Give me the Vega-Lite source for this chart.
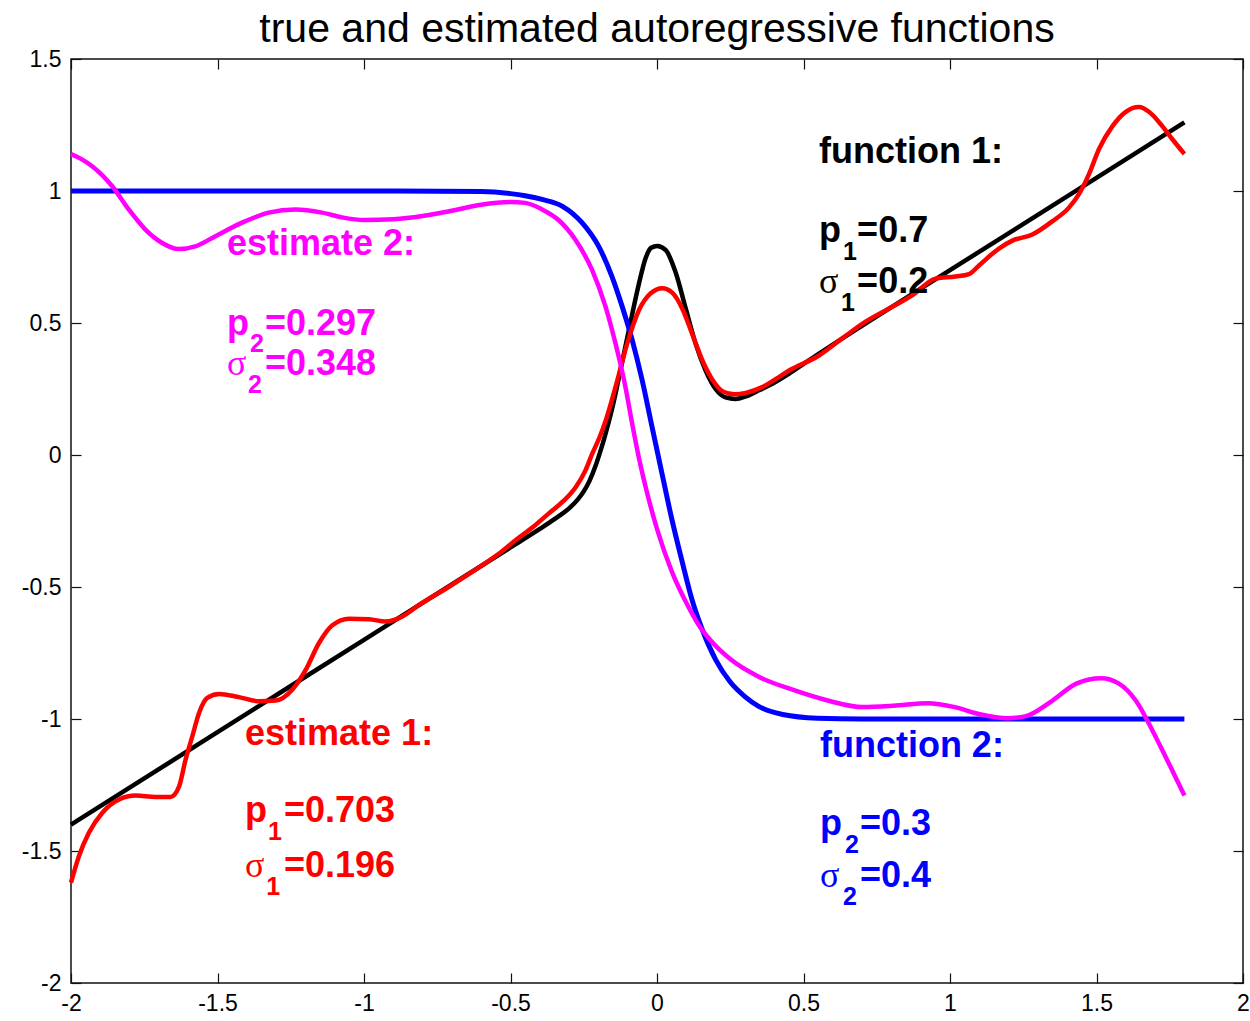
{
  "$schema": "https://vega.github.io/schema/vega-lite/v6.json",
  "width": 1172,
  "height": 924,
  "autosize": "none",
  "padding": {"left": 71, "top": 59, "right": 7, "bottom": 38},
  "background": "white",
  "config": {
    "view": {"stroke": "#111", "strokeWidth": 1.5},
    "font": "Liberation Sans",
    "axis": {"grid": false, "domain": false, "tickColor": "#111", "tickWidth": 1.2, "tickSize": -10, "labelColor": "#000", "labelFont": "Liberation Sans", "labelFontSize": 23, "labelFlush": false, "labelOverlap": false, "title": null}
  },
  "title": {"text": "true and estimated autoregressive functions", "font": "Liberation Sans", "fontSize": 41, "fontWeight": "normal", "color": "#000", "anchor": "middle", "baseline": "bottom", "offset": 17, "dy": 61, "frame": "group"},
  "datasets": {
    "curves": [
      {"series": "function 1", "x": -2, "y": -1.4},
      {"series": "function 1", "x": -1.5, "y": -1.05},
      {"series": "function 1", "x": -1, "y": -0.7},
      {"series": "function 1", "x": -0.5, "y": -0.35},
      {"series": "function 1", "x": -0.4, "y": -0.28},
      {"series": "function 1", "x": -0.35, "y": -0.243},
      {"series": "function 1", "x": -0.3, "y": -0.202},
      {"series": "function 1", "x": -0.27, "y": -0.168},
      {"series": "function 1", "x": -0.25, "y": -0.138},
      {"series": "function 1", "x": -0.23, "y": -0.097},
      {"series": "function 1", "x": -0.21, "y": -0.042},
      {"series": "function 1", "x": -0.195, "y": 0.008},
      {"series": "function 1", "x": -0.18, "y": 0.063},
      {"series": "function 1", "x": -0.164, "y": 0.128},
      {"series": "function 1", "x": -0.15, "y": 0.19},
      {"series": "function 1", "x": -0.124, "y": 0.325},
      {"series": "function 1", "x": -0.09, "y": 0.505},
      {"series": "function 1", "x": -0.061, "y": 0.652},
      {"series": "function 1", "x": -0.039, "y": 0.745},
      {"series": "function 1", "x": -0.02, "y": 0.785},
      {"series": "function 1", "x": 0.001, "y": 0.792},
      {"series": "function 1", "x": 0.03, "y": 0.776},
      {"series": "function 1", "x": 0.064, "y": 0.69},
      {"series": "function 1", "x": 0.098, "y": 0.555},
      {"series": "function 1", "x": 0.132, "y": 0.421},
      {"series": "function 1", "x": 0.166, "y": 0.32},
      {"series": "function 1", "x": 0.2, "y": 0.25},
      {"series": "function 1", "x": 0.234, "y": 0.218},
      {"series": "function 1", "x": 0.268, "y": 0.212},
      {"series": "function 1", "x": 0.303, "y": 0.222},
      {"series": "function 1", "x": 0.348, "y": 0.245},
      {"series": "function 1", "x": 0.394, "y": 0.27},
      {"series": "function 1", "x": 0.451, "y": 0.308},
      {"series": "function 1", "x": 0.5, "y": 0.345},
      {"series": "function 1", "x": 1, "y": 0.7},
      {"series": "function 1", "x": 1.8, "y": 1.26},

      {"series": "function 2", "x": -2, "y": 1},
      {"series": "function 2", "x": -1, "y": 1},
      {"series": "function 2", "x": -0.6, "y": 0.998},
      {"series": "function 2", "x": -0.5, "y": 0.99},
      {"series": "function 2", "x": -0.45, "y": 0.982},
      {"series": "function 2", "x": -0.392, "y": 0.968},
      {"series": "function 2", "x": -0.324, "y": 0.943},
      {"series": "function 2", "x": -0.256, "y": 0.88},
      {"series": "function 2", "x": -0.199, "y": 0.79},
      {"series": "function 2", "x": -0.154, "y": 0.677},
      {"series": "function 2", "x": -0.119, "y": 0.563},
      {"series": "function 2", "x": -0.085, "y": 0.437},
      {"series": "function 2", "x": -0.051, "y": 0.285},
      {"series": "function 2", "x": -0.017, "y": 0.107},
      {"series": "function 2", "x": 0.017, "y": -0.07},
      {"series": "function 2", "x": 0.05, "y": -0.24},
      {"series": "function 2", "x": 0.085, "y": -0.4},
      {"series": "function 2", "x": 0.12, "y": -0.55},
      {"series": "function 2", "x": 0.154, "y": -0.66},
      {"series": "function 2", "x": 0.2, "y": -0.775},
      {"series": "function 2", "x": 0.25, "y": -0.86},
      {"series": "function 2", "x": 0.3, "y": -0.915},
      {"series": "function 2", "x": 0.347, "y": -0.952},
      {"series": "function 2", "x": 0.429, "y": -0.983},
      {"series": "function 2", "x": 0.547, "y": -0.997},
      {"series": "function 2", "x": 0.7, "y": -1},
      {"series": "function 2", "x": 1.8, "y": -1},

      {"series": "estimate 1", "x": -2, "y": -1.62},
      {"series": "estimate 1", "x": -1.973, "y": -1.52},
      {"series": "estimate 1", "x": -1.939, "y": -1.431},
      {"series": "estimate 1", "x": -1.893, "y": -1.355},
      {"series": "estimate 1", "x": -1.836, "y": -1.305},
      {"series": "estimate 1", "x": -1.779, "y": -1.29},
      {"series": "estimate 1", "x": -1.711, "y": -1.295},
      {"series": "estimate 1", "x": -1.66, "y": -1.295},
      {"series": "estimate 1", "x": -1.631, "y": -1.255},
      {"series": "estimate 1", "x": -1.609, "y": -1.154},
      {"series": "estimate 1", "x": -1.586, "y": -1.066},
      {"series": "estimate 1", "x": -1.563, "y": -0.977},
      {"series": "estimate 1", "x": -1.535, "y": -0.92},
      {"series": "estimate 1", "x": -1.495, "y": -0.905},
      {"series": "estimate 1", "x": -1.427, "y": -0.917},
      {"series": "estimate 1", "x": -1.358, "y": -0.933},
      {"series": "estimate 1", "x": -1.301, "y": -0.93},
      {"series": "estimate 1", "x": -1.245, "y": -0.889},
      {"series": "estimate 1", "x": -1.199, "y": -0.814},
      {"series": "estimate 1", "x": -1.154, "y": -0.713},
      {"series": "estimate 1", "x": -1.108, "y": -0.645},
      {"series": "estimate 1", "x": -1.051, "y": -0.62},
      {"series": "estimate 1", "x": -0.983, "y": -0.622},
      {"series": "estimate 1", "x": -0.926, "y": -0.631},
      {"series": "estimate 1", "x": -0.869, "y": -0.612},
      {"series": "estimate 1", "x": -0.812, "y": -0.568},
      {"series": "estimate 1", "x": -0.71, "y": -0.499},
      {"series": "estimate 1", "x": -0.6, "y": -0.42},
      {"series": "estimate 1", "x": -0.539, "y": -0.373},
      {"series": "estimate 1", "x": -0.482, "y": -0.322},
      {"series": "estimate 1", "x": -0.42, "y": -0.27},
      {"series": "estimate 1", "x": -0.369, "y": -0.221},
      {"series": "estimate 1", "x": -0.32, "y": -0.175},
      {"series": "estimate 1", "x": -0.277, "y": -0.121},
      {"series": "estimate 1", "x": -0.245, "y": -0.06},
      {"series": "estimate 1", "x": -0.221, "y": 0.005},
      {"series": "estimate 1", "x": -0.195, "y": 0.07},
      {"series": "estimate 1", "x": -0.175, "y": 0.131},
      {"series": "estimate 1", "x": -0.141, "y": 0.26},
      {"series": "estimate 1", "x": -0.101, "y": 0.425},
      {"series": "estimate 1", "x": -0.061, "y": 0.55},
      {"series": "estimate 1", "x": -0.022, "y": 0.612},
      {"series": "estimate 1", "x": 0.018, "y": 0.632},
      {"series": "estimate 1", "x": 0.052, "y": 0.615},
      {"series": "estimate 1", "x": 0.086, "y": 0.555},
      {"series": "estimate 1", "x": 0.12, "y": 0.459},
      {"series": "estimate 1", "x": 0.155, "y": 0.358},
      {"series": "estimate 1", "x": 0.189, "y": 0.285},
      {"series": "estimate 1", "x": 0.223, "y": 0.242},
      {"series": "estimate 1", "x": 0.263, "y": 0.23},
      {"series": "estimate 1", "x": 0.303, "y": 0.235},
      {"series": "estimate 1", "x": 0.359, "y": 0.257},
      {"series": "estimate 1", "x": 0.416, "y": 0.295},
      {"series": "estimate 1", "x": 0.451, "y": 0.32},
      {"series": "estimate 1", "x": 0.55, "y": 0.375},
      {"series": "estimate 1", "x": 0.63, "y": 0.44},
      {"series": "estimate 1", "x": 0.712, "y": 0.505},
      {"series": "estimate 1", "x": 0.792, "y": 0.555},
      {"series": "estimate 1", "x": 0.871, "y": 0.605},
      {"series": "estimate 1", "x": 0.951, "y": 0.668},
      {"series": "estimate 1", "x": 1.019, "y": 0.676},
      {"series": "estimate 1", "x": 1.065, "y": 0.685},
      {"series": "estimate 1", "x": 1.099, "y": 0.718},
      {"series": "estimate 1", "x": 1.167, "y": 0.782},
      {"series": "estimate 1", "x": 1.213, "y": 0.812},
      {"series": "estimate 1", "x": 1.281, "y": 0.835},
      {"series": "estimate 1", "x": 1.349, "y": 0.885},
      {"series": "estimate 1", "x": 1.406, "y": 0.937},
      {"series": "estimate 1", "x": 1.44, "y": 0.988},
      {"series": "estimate 1", "x": 1.474, "y": 1.063},
      {"series": "estimate 1", "x": 1.509, "y": 1.16},
      {"series": "estimate 1", "x": 1.554, "y": 1.245},
      {"series": "estimate 1", "x": 1.6, "y": 1.3},
      {"series": "estimate 1", "x": 1.645, "y": 1.318},
      {"series": "estimate 1", "x": 1.679, "y": 1.3},
      {"series": "estimate 1", "x": 1.725, "y": 1.245},
      {"series": "estimate 1", "x": 1.759, "y": 1.196},
      {"series": "estimate 1", "x": 1.8, "y": 1.14},

      {"series": "estimate 2", "x": -2, "y": 1.14},
      {"series": "estimate 2", "x": -1.96, "y": 1.118},
      {"series": "estimate 2", "x": -1.928, "y": 1.094},
      {"series": "estimate 2", "x": -1.86, "y": 1.019},
      {"series": "estimate 2", "x": -1.803, "y": 0.93},
      {"series": "estimate 2", "x": -1.746, "y": 0.854},
      {"series": "estimate 2", "x": -1.69, "y": 0.804},
      {"series": "estimate 2", "x": -1.632, "y": 0.78},
      {"series": "estimate 2", "x": -1.576, "y": 0.79},
      {"series": "estimate 2", "x": -1.507, "y": 0.829},
      {"series": "estimate 2", "x": -1.416, "y": 0.88},
      {"series": "estimate 2", "x": -1.325, "y": 0.918},
      {"series": "estimate 2", "x": -1.234, "y": 0.93},
      {"series": "estimate 2", "x": -1.143, "y": 0.918},
      {"series": "estimate 2", "x": -1.075, "y": 0.9},
      {"series": "estimate 2", "x": -1.0, "y": 0.89},
      {"series": "estimate 2", "x": -0.9, "y": 0.893},
      {"series": "estimate 2", "x": -0.8, "y": 0.905},
      {"series": "estimate 2", "x": -0.7, "y": 0.925},
      {"series": "estimate 2", "x": -0.6, "y": 0.948},
      {"series": "estimate 2", "x": -0.5, "y": 0.958},
      {"series": "estimate 2", "x": -0.45, "y": 0.955},
      {"series": "estimate 2", "x": -0.392, "y": 0.93},
      {"series": "estimate 2", "x": -0.336, "y": 0.89},
      {"series": "estimate 2", "x": -0.279, "y": 0.816},
      {"series": "estimate 2", "x": -0.222, "y": 0.702},
      {"series": "estimate 2", "x": -0.176, "y": 0.563},
      {"series": "estimate 2", "x": -0.142, "y": 0.424},
      {"series": "estimate 2", "x": -0.108, "y": 0.259},
      {"series": "estimate 2", "x": -0.085, "y": 0.12},
      {"series": "estimate 2", "x": -0.06, "y": -0.02},
      {"series": "estimate 2", "x": -0.03, "y": -0.16},
      {"series": "estimate 2", "x": 0.0, "y": -0.28},
      {"series": "estimate 2", "x": 0.05, "y": -0.44},
      {"series": "estimate 2", "x": 0.1, "y": -0.56},
      {"series": "estimate 2", "x": 0.14, "y": -0.64},
      {"series": "estimate 2", "x": 0.181, "y": -0.70},
      {"series": "estimate 2", "x": 0.252, "y": -0.775},
      {"series": "estimate 2", "x": 0.347, "y": -0.84},
      {"series": "estimate 2", "x": 0.465, "y": -0.89},
      {"series": "estimate 2", "x": 0.583, "y": -0.93},
      {"series": "estimate 2", "x": 0.701, "y": -0.955},
      {"series": "estimate 2", "x": 0.807, "y": -0.95},
      {"series": "estimate 2", "x": 0.925, "y": -0.94},
      {"series": "estimate 2", "x": 1.02, "y": -0.956},
      {"series": "estimate 2", "x": 1.102, "y": -0.982},
      {"series": "estimate 2", "x": 1.197, "y": -0.997},
      {"series": "estimate 2", "x": 1.256, "y": -0.99},
      {"series": "estimate 2", "x": 1.35, "y": -0.93},
      {"series": "estimate 2", "x": 1.433, "y": -0.865},
      {"series": "estimate 2", "x": 1.516, "y": -0.846},
      {"series": "estimate 2", "x": 1.575, "y": -0.865},
      {"series": "estimate 2", "x": 1.634, "y": -0.93},
      {"series": "estimate 2", "x": 1.693, "y": -1.048},
      {"series": "estimate 2", "x": 1.752, "y": -1.18},
      {"series": "estimate 2", "x": 1.8, "y": -1.29}
    ],
    "labels": [
      {"series": "function 1", "kind": "main", "x": 0.553, "y": 1.106, "text": "function 1:"},
      {"series": "function 1", "kind": "main", "x": 0.553, "y": 0.808, "text": "p"},
      {"series": "function 1", "kind": "sub", "x": 0.635, "y": 0.739, "text": "1"},
      {"series": "function 1", "kind": "main", "x": 0.683, "y": 0.808, "text": "=0.7"},
      {"series": "function 1", "kind": "sym", "x": 0.553, "y": 0.614, "text": "σ"},
      {"series": "function 1", "kind": "sub", "x": 0.628, "y": 0.545, "text": "1"},
      {"series": "function 1", "kind": "main", "x": 0.683, "y": 0.614, "text": "=0.2"},

      {"series": "estimate 2", "kind": "main", "x": -1.468, "y": 0.758, "text": "estimate 2:"},
      {"series": "estimate 2", "kind": "main", "x": -1.468, "y": 0.455, "text": "p"},
      {"series": "estimate 2", "kind": "sub", "x": -1.389, "y": 0.39, "text": "2"},
      {"series": "estimate 2", "kind": "main", "x": -1.338, "y": 0.455, "text": "=0.297"},
      {"series": "estimate 2", "kind": "sym", "x": -1.468, "y": 0.303, "text": "σ"},
      {"series": "estimate 2", "kind": "sub", "x": -1.396, "y": 0.235, "text": "2"},
      {"series": "estimate 2", "kind": "main", "x": -1.338, "y": 0.303, "text": "=0.348"},

      {"series": "estimate 1", "kind": "main", "x": -1.406, "y": -1.098, "text": "estimate 1:"},
      {"series": "estimate 1", "kind": "main", "x": -1.406, "y": -1.389, "text": "p"},
      {"series": "estimate 1", "kind": "sub", "x": -1.328, "y": -1.458, "text": "1"},
      {"series": "estimate 1", "kind": "main", "x": -1.273, "y": -1.389, "text": "=0.703"},
      {"series": "estimate 1", "kind": "sym", "x": -1.406, "y": -1.597, "text": "σ"},
      {"series": "estimate 1", "kind": "sub", "x": -1.334, "y": -1.667, "text": "1"},
      {"series": "estimate 1", "kind": "main", "x": -1.273, "y": -1.597, "text": "=0.196"},

      {"series": "function 2", "kind": "main", "x": 0.556, "y": -1.143, "text": "function 2:"},
      {"series": "function 2", "kind": "main", "x": 0.556, "y": -1.439, "text": "p"},
      {"series": "function 2", "kind": "sub", "x": 0.642, "y": -1.508, "text": "2"},
      {"series": "function 2", "kind": "main", "x": 0.693, "y": -1.439, "text": "=0.3"},
      {"series": "function 2", "kind": "sym", "x": 0.556, "y": -1.635, "text": "σ"},
      {"series": "function 2", "kind": "sub", "x": 0.635, "y": -1.705, "text": "2"},
      {"series": "function 2", "kind": "main", "x": 0.693, "y": -1.635, "text": "=0.4"}
    ]
  },
  "resolve": {"axis": {"x": "independent", "y": "independent"}},
  "layer": [
    {
      "data": {"name": "curves"},
      "transform": [{"filter": "datum.series === 'function 1'"}],
      "mark": {"type": "line", "strokeWidth": 4.5, "interpolate": "monotone"},
      "encoding": {
        "x": {"field": "x", "type": "quantitative", "scale": {"domain": [-2, 2], "nice": false, "zero": false}, "axis": {"orient": "bottom", "values": [-2, -1.5, -1, -0.5, 0, 0.5, 1, 1.5, 2], "labelExpr": "toString(datum.value)", "labelPadding": 19}},
        "y": {"field": "y", "type": "quantitative", "scale": {"domain": [-2, 1.5], "nice": false, "zero": false}, "axis": {"orient": "left", "values": [-2, -1.5, -1, -0.5, 0, 0.5, 1, 1.5], "labelExpr": "toString(datum.value)", "labelPadding": 20}},
        "color": {"field": "series", "type": "nominal", "scale": {"domain": ["function 1", "function 2", "estimate 1", "estimate 2"], "range": ["#000000", "#0000ff", "#ff0000", "#ff00ff"]}, "legend": null}
      }
    },
    {
      "data": {"name": "curves"},
      "transform": [{"filter": "datum.series === 'function 2'"}],
      "mark": {"type": "line", "strokeWidth": 5, "interpolate": "monotone"},
      "encoding": {
        "x": {"field": "x", "type": "quantitative", "axis": {"orient": "top", "values": [-2, -1.5, -1, -0.5, 0, 0.5, 1, 1.5, 2], "labels": false}},
        "y": {"field": "y", "type": "quantitative", "axis": {"orient": "right", "values": [-2, -1.5, -1, -0.5, 0, 0.5, 1, 1.5], "labels": false}},
        "color": {"field": "series", "type": "nominal", "legend": null}
      }
    },
    {
      "data": {"name": "curves"},
      "transform": [{"filter": "datum.series === 'estimate 1'"}],
      "mark": {"type": "line", "strokeWidth": 4.5, "interpolate": "monotone"},
      "encoding": {
        "x": {"field": "x", "type": "quantitative", "axis": null},
        "y": {"field": "y", "type": "quantitative", "axis": null},
        "color": {"field": "series", "type": "nominal", "legend": null}
      }
    },
    {
      "data": {"name": "curves"},
      "transform": [{"filter": "datum.series === 'estimate 2'"}],
      "mark": {"type": "line", "strokeWidth": 4.5, "interpolate": "monotone"},
      "encoding": {
        "x": {"field": "x", "type": "quantitative", "axis": null},
        "y": {"field": "y", "type": "quantitative", "axis": null},
        "color": {"field": "series", "type": "nominal", "legend": null}
      }
    },
    {
      "data": {"name": "labels"},
      "transform": [{"filter": "datum.kind === 'main'"}],
      "mark": {"type": "text", "align": "left", "baseline": "alphabetic", "font": "Liberation Sans", "fontSize": 36, "fontWeight": "bold"},
      "encoding": {
        "x": {"field": "x", "type": "quantitative", "axis": null},
        "y": {"field": "y", "type": "quantitative", "axis": null},
        "text": {"field": "text"},
        "color": {"field": "series", "type": "nominal", "legend": null}
      }
    },
    {
      "data": {"name": "labels"},
      "transform": [{"filter": "datum.kind === 'sym'"}],
      "mark": {"type": "text", "align": "left", "baseline": "alphabetic", "font": "Liberation Serif", "fontSize": 36, "fontWeight": "normal"},
      "encoding": {
        "x": {"field": "x", "type": "quantitative", "axis": null},
        "y": {"field": "y", "type": "quantitative", "axis": null},
        "text": {"field": "text"},
        "color": {"field": "series", "type": "nominal", "legend": null}
      }
    },
    {
      "data": {"name": "labels"},
      "transform": [{"filter": "datum.kind === 'sub'"}],
      "mark": {"type": "text", "align": "left", "baseline": "alphabetic", "font": "Liberation Sans", "fontSize": 25, "fontWeight": "bold"},
      "encoding": {
        "x": {"field": "x", "type": "quantitative", "axis": null},
        "y": {"field": "y", "type": "quantitative", "axis": null},
        "text": {"field": "text"},
        "color": {"field": "series", "type": "nominal", "legend": null}
      }
    }
  ]
}
